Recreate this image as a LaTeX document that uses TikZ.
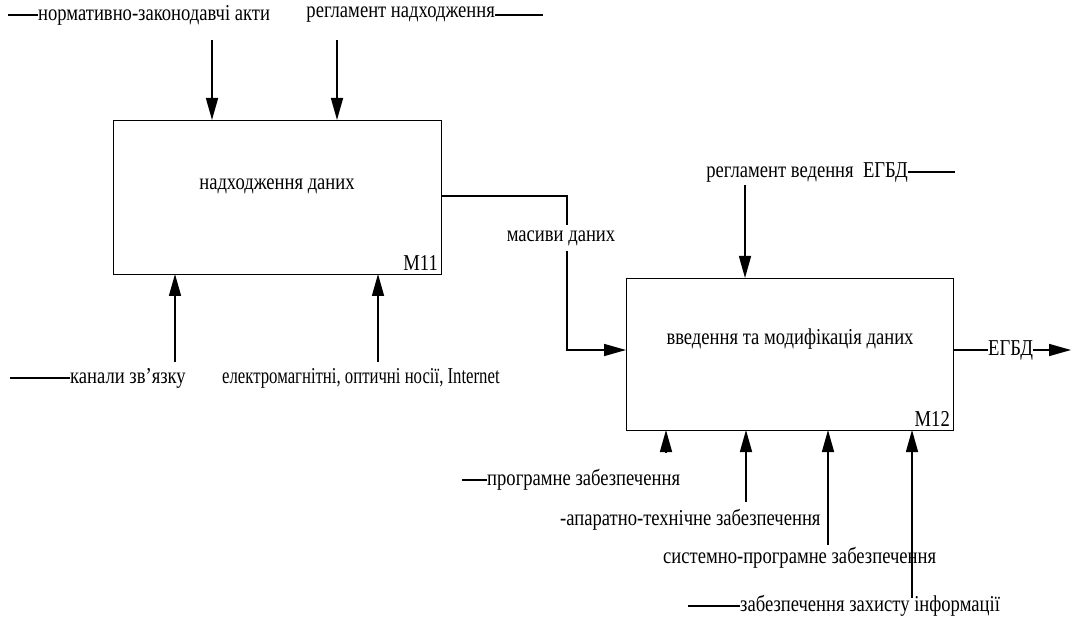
\documentclass[tikz,border=0pt]{standalone}
\usepackage{fontspec}
\usepackage{graphicx}
\setmainfont{Liberation Serif}
\usetikzlibrary{arrows.meta}
% taller, narrow lettering used for every label
\newcommand\tall[1]{\scalebox{1}[1.22]{#1}}
\begin{document}
\begin{tikzpicture}[x=1pt,y=-1pt,
  lbl/.style={font=\fontsize{18.6}{20}\selectfont, inner sep=0pt},
  blk/.style={draw, line width=0.8pt, minimum width=328pt, minimum height=154pt,
    inner sep=0pt, outer sep=0pt, anchor=north west},
  ln/.style={line width=1.5pt},
  arr/.style={line width=1.5pt, -{Triangle[length=22pt,width=12pt]}}]
\useasboundingbox (0,0) rectangle (1071,620);

% activity boxes
\node[blk] (m11) at (113,120) {};
\node[lbl] (m11t) at (277,186) {\tall{надходження даних}};
\node[lbl, anchor=south east] (m11n) at (438,271) {\tall{М11}};

\node[blk, minimum width=327pt, minimum height=152pt] (m12) at (626,278) {};
\node[lbl] (m12t) at (790,339) {\tall{введення та модифікація даних}};
\node[lbl, anchor=south east] (m12n) at (950,427) {\tall{М12}};

% controls of M11
\node[lbl, anchor=west] (c1) at (38,15) {\tall{нормативно-законодавчі акти}};
\coordinate (c1s) at (8,15);
\draw[ln] (c1s) -- (c1.west);
\node[lbl, anchor=east] (c2) at (495,15) {\tall{регламент надходження}};
\coordinate (c2e) at (543,15);
\draw[ln] (c2.east) -- (c2e);
\coordinate (a1) at (212,40);
\coordinate (a2) at (337,40);
\draw[arr] (a1) -- (a1 |- m11.north);
\draw[arr] (a2) -- (a2 |- m11.north);

% mechanisms of M11
\node[lbl, anchor=west] (k1) at (70,378) {\tall{канали зв’язку}};
\coordinate (k1s) at (10,378);
\draw[ln] (k1s) -- (k1.west);
\node[lbl, anchor=west] (k2) at (222,378) {\scalebox{0.9}[1.22]{електромагнітні, оптичні носії, Internet}};
\coordinate (b1) at (175,362);
\coordinate (b2) at (378,362);
\draw[arr] (b1) -- (b1 |- m11.south);
\draw[arr] (b2) -- (b2 |- m11.south);

% flow from M11 to M12
\coordinate (f0) at (441,196);
\coordinate (f1) at (567,196);
\coordinate (f2) at (567,225);
\node[lbl] (fl) at (561,238) {\tall{масиви даних}};
\coordinate (f3) at (567,251);
\coordinate (f4) at (567,350);
\draw[ln] (f0) -- (f1) -- (f2);
\draw[arr] (f3) -- (f4) -- (f4 -| m12.west);

% control of M12
\node[lbl, anchor=east] (c3) at (908,172) {\tall{регламент ведення\ \ ЕГБД}};
\coordinate (c3e) at (955,172);
\draw[ln] (c3.east) -- (c3e);
\coordinate (a3) at (745,185);
\draw[arr] (a3) -- (a3 |- m12.north);

% output of M12
\coordinate (o0) at (953,350);
\node[lbl, anchor=west] (out) at (988,350) {\tall{ЕГБД}};
\coordinate (o1) at (1071,350);
\draw[ln] (o0) -- (out.west);
\draw[arr] (out.east) -- (o1);

% mechanisms of M12
\node[lbl, anchor=west] (s1) at (487,480) {\tall{програмне забезпечення}};
\coordinate (s1s) at (462,480);
\draw[ln] (s1s) -- (s1.west);
\node[lbl, anchor=west] (s2) at (560,520) {\tall{-апаратно-технічне забезпечення}};
\node[lbl, anchor=west] (s3) at (663,558) {\tall{системно-програмне забезпечення}};
\node[lbl, anchor=west] (s4) at (740,606) {\tall{забезпечення захисту інформації}};
\coordinate (s4s) at (688,606);
\draw[ln] (s4s) -- (s4.west);
\coordinate (d1) at (666,452);
\coordinate (d2) at (746,502);
\coordinate (d3) at (828,545);
\coordinate (d4) at (912,598);
\draw[arr] (d1) -- (d1 |- m12.south);
\draw[arr] (d2) -- (d2 |- m12.south);
\draw[arr] (d3) -- (d3 |- m12.south);
\draw[arr] (d4) -- (d4 |- m12.south);
\end{tikzpicture}
\end{document}
